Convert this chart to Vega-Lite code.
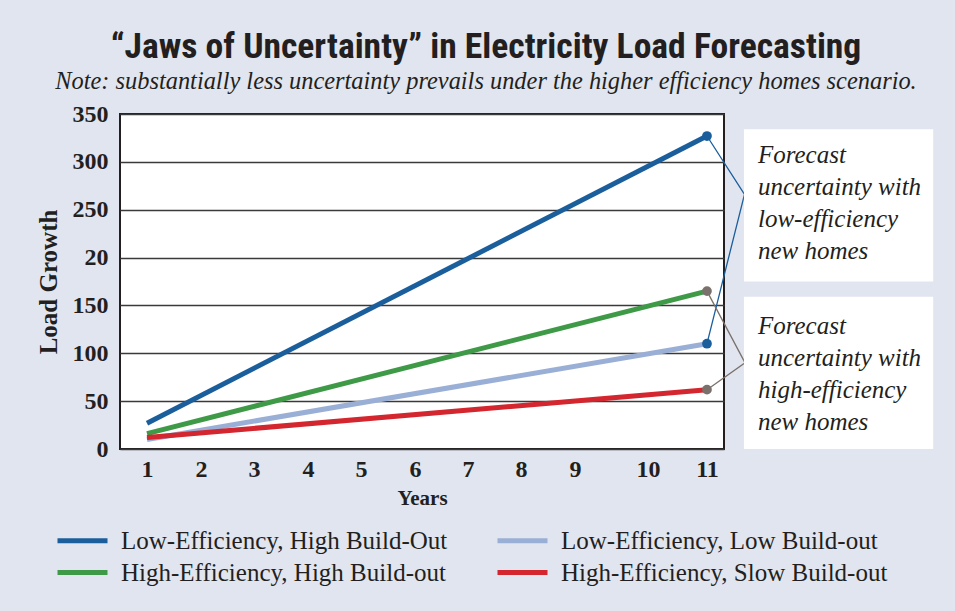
{
  "$schema": "https://vega.github.io/schema/vega-lite/v6.json",
  "width": 604,
  "height": 335,
  "autosize": "none",
  "padding": {"left": 120, "top": 114, "right": 231, "bottom": 162},
  "background": "#e1e5ef",
  "title": {
    "text": "“Jaws of Uncertainty” in Electricity Load Forecasting",
    "subtitle": "Note: substantially less uncertainty prevails under the higher efficiency homes scenario.",
    "anchor": "middle",
    "frame": "group",
    "dx": 64,
    "font": "Liberation Sans Narrow, Roboto Condensed, Roboto",
    "fontSize": 35.6,
    "fontWeight": "bold",
    "color": "#231f20",
    "subtitleFont": "Liberation Serif",
    "subtitleFontStyle": "italic",
    "subtitleFontSize": 24.4,
    "subtitleColor": "#231f20",
    "subtitlePadding": 4,
    "offset": 9
  },
  "config": {
    "view": {"stroke": "#231f20", "strokeWidth": 2, "fill": "white"},
    "axis": {
      "labelFont": "Liberation Serif",
      "labelFontWeight": "bold",
      "labelFontSize": 24,
      "labelColor": "#231f20",
      "titleFont": "Liberation Serif",
      "titleFontWeight": "bold",
      "titleColor": "#231f20",
      "ticks": false,
      "domain": false
    }
  },
  "datasets": {
    "lines": [
      {"series": "Low-Efficiency, High Build-Out", "year": 1, "load": 27},
      {"series": "Low-Efficiency, High Build-Out", "year": 11, "load": 327},
      {"series": "Low-Efficiency, Low Build-out", "year": 1, "load": 10},
      {"series": "Low-Efficiency, Low Build-out", "year": 11, "load": 110},
      {"series": "High-Efficiency, High Build-out", "year": 1, "load": 16},
      {"series": "High-Efficiency, High Build-out", "year": 11, "load": 165},
      {"series": "High-Efficiency, Slow Build-out", "year": 1, "load": 12},
      {"series": "High-Efficiency, Slow Build-out", "year": 11, "load": 62}
    ],
    "ends": [
      {"efficiency": "low", "year": 11, "load": 327},
      {"efficiency": "low", "year": 11, "load": 110},
      {"efficiency": "high", "year": 11, "load": 165},
      {"efficiency": "high", "year": 11, "load": 62}
    ],
    "brackets": [
      {"efficiency": "low", "step": 1, "year": 11, "load": 327},
      {"efficiency": "low", "step": 2, "year": 11.67, "load": 266},
      {"efficiency": "low", "step": 3, "year": 11, "load": 110},
      {"efficiency": "high", "step": 1, "year": 11, "load": 165},
      {"efficiency": "high", "step": 2, "year": 11.68, "load": 90},
      {"efficiency": "high", "step": 3, "year": 11, "load": 62}
    ]
  },
  "layer": [
    {
      "data": {"name": "lines"},
      "mark": {"type": "line", "strokeWidth": 5, "clip": false},
      "encoding": {
        "x": {
          "field": "year",
          "type": "quantitative",
          "scale": {"domain": [0.518, 11.304], "nice": false, "zero": false},
          "axis": {
            "title": "Years",
            "titleFontSize": 21,
            "titlePadding": 6,
            "grid": false,
            "values": [1, 1.964, 2.911, 3.875, 4.821, 5.786, 6.732, 7.679, 8.643, 9.946, 11],
            "labelExpr": "format(round(datum.value), 'd')",
            "labelPadding": 8
          }
        },
        "y": {
          "field": "load",
          "type": "quantitative",
          "scale": {"domain": [0, 350], "nice": false},
          "axis": {
            "title": "Load Growth",
            "titleFontSize": 25,
            "titlePadding": 11,
            "values": [0, 50, 100, 150, 200, 250, 300, 350],
            "labelExpr": "datum.value == 200 ? '20' : datum.label",
            "labelPadding": 12,
            "grid": true,
            "gridColor": "#3a3a3a",
            "gridWidth": 1.5,
            "gridOpacity": 1
          }
        },
        "color": {
          "field": "series",
          "type": "nominal",
          "scale": {
            "domain": ["Low-Efficiency, High Build-Out", "High-Efficiency, High Build-out", "Low-Efficiency, Low Build-out", "High-Efficiency, Slow Build-out"],
            "range": ["#1b5e9c", "#3f9a48", "#9aafd6", "#d3262e"]
          },
          "legend": {
            "title": null,
            "orient": "none",
            "legendX": -50,
            "legendY": 414,
            "columns": 2,
            "columnPadding": 39,
            "rowPadding": 6,
            "symbolType": "M-4,0H4",
            "symbolSize": 156.25,
            "symbolStrokeWidth": 5,
            "labelFont": "Liberation Serif",
            "labelFontSize": 25,
            "labelColor": "#231f20",
            "labelOffset": 26,
            "labelLimit": 420
          }
        }
      }
    },
    {
      "data": {"name": "brackets"},
      "transform": [{"filter": "datum.efficiency == 'low'"}],
      "mark": {"type": "line", "color": "#1b5e9c", "strokeWidth": 1.3, "clip": false},
      "encoding": {
        "x": {"field": "year", "type": "quantitative"},
        "y": {"field": "load", "type": "quantitative"},
        "order": {"field": "step"}
      }
    },
    {
      "data": {"name": "brackets"},
      "transform": [{"filter": "datum.efficiency == 'high'"}],
      "mark": {"type": "line", "color": "#7b716c", "strokeWidth": 1.3, "clip": false},
      "encoding": {
        "x": {"field": "year", "type": "quantitative"},
        "y": {"field": "load", "type": "quantitative"},
        "order": {"field": "step"}
      }
    },
    {
      "data": {"name": "ends"},
      "transform": [{"filter": "datum.efficiency == 'low'"}],
      "mark": {"type": "circle", "color": "#1b5e9c", "opacity": 1, "size": 95},
      "encoding": {
        "x": {"field": "year", "type": "quantitative"},
        "y": {"field": "load", "type": "quantitative"}
      }
    },
    {
      "data": {"name": "ends"},
      "transform": [{"filter": "datum.efficiency == 'high'"}],
      "mark": {"type": "circle", "color": "#7b716c", "opacity": 1, "size": 95},
      "encoding": {
        "x": {"field": "year", "type": "quantitative"},
        "y": {"field": "load", "type": "quantitative"}
      }
    },
    {
      "data": {"values": [{}]},
      "mark": {"type": "rect", "color": "white", "clip": false},
      "encoding": {
        "x": {"datum": 11.66},
        "x2": {"datum": 15.04},
        "y": {"datum": 334},
        "y2": {"datum": 175}
      }
    },
    {
      "data": {"values": [{}]},
      "mark": {"type": "rect", "color": "white", "clip": false},
      "encoding": {
        "x": {"datum": 11.66},
        "x2": {"datum": 15.04},
        "y": {"datum": 159},
        "y2": {"datum": 0}
      }
    },
    {
      "data": {"values": [{}]},
      "mark": {"type": "text", "align": "left", "baseline": "top", "font": "Liberation Serif", "fontStyle": "italic", "fontSize": 25, "lineHeight": 32, "color": "#231f20", "clip": false},
      "encoding": {
        "x": {"datum": 11.91},
        "y": {"datum": 320},
        "text": {"value": ["Forecast", "uncertainty with", "low-efficiency", "new homes"]}
      }
    },
    {
      "data": {"values": [{}]},
      "mark": {"type": "text", "align": "left", "baseline": "top", "font": "Liberation Serif", "fontStyle": "italic", "fontSize": 25, "lineHeight": 32, "color": "#231f20", "clip": false},
      "encoding": {
        "x": {"datum": 11.91},
        "y": {"datum": 141},
        "text": {"value": ["Forecast", "uncertainty with", "high-efficiency", "new homes"]}
      }
    }
  ]
}
